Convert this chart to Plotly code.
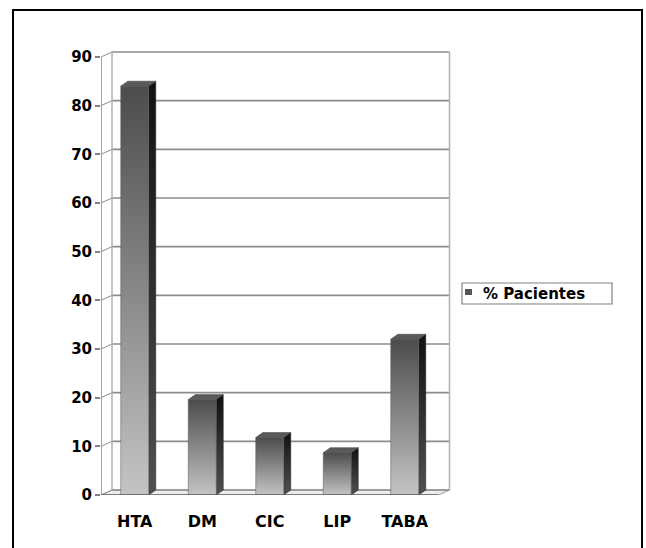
import plotly.graph_objects as go

# Data
categories = ["HTA", "DM", "CIC", "LIP", "TABA"]
pacientes = [84, 19.6, 11.8, 8.7, 32]
y_ticks = [0, 10, 20, 30, 40, 50, 60, 70, 80, 90]
series_name = "% Pacientes"

# Layout geometry (pixels)
W, H = 646, 548
ML, MB, MT = 101, 53, 40
PLOT_W = 360
PLOT_H = H - MB - MT
CAT_PX = 67.5            # width of one category
UNIT_PX = 438 / 90       # pixels per y unit
X_MAX = PLOT_W / CAT_PX
Y_MAX = PLOT_H / UNIT_PX

def dx(px):
    return px / CAT_PX

def dy(px):
    return px / UNIT_PX

def paper_x(px):
    return (px - ML) / PLOT_W

def paper_y(py):
    return (H - MB - py) / PLOT_H

WALL_DX, WALL_DY = dx(11), dy(5)
BAR_DX, BAR_DY = dx(7), dy(5)
BAR_W = dx(28)
n = len(categories)

fig = go.Figure()

shapes = []
grid_col = "#8c8c8c"

# floor
shapes.append(dict(type="path",
                   path=f"M 0,0 L {n},0 L {n + WALL_DX},{WALL_DY} L {WALL_DX},{WALL_DY} Z",
                   xref="x", yref="y", fillcolor="#ececec",
                   line=dict(color="#a0a0a0", width=1), layer="below"))
# back wall gridlines and left-wall diagonals
for t in y_ticks:
    shapes.append(dict(type="line", xref="x", yref="y",
                       x0=WALL_DX, x1=n + WALL_DX, y0=t + WALL_DY, y1=t + WALL_DY,
                       line=dict(color=grid_col, width=1.6), layer="below"))
    shapes.append(dict(type="line", xref="x", yref="y",
                       x0=0, x1=WALL_DX, y0=t, y1=t + WALL_DY,
                       line=dict(color=grid_col, width=1), layer="below"))
# wall edges
shapes.append(dict(type="line", xref="x", yref="y", x0=WALL_DX, x1=WALL_DX,
                   y0=WALL_DY, y1=y_ticks[-1] + WALL_DY,
                   line=dict(color="#b0b0b0", width=1.5), layer="below"))
shapes.append(dict(type="line", xref="x", yref="y", x0=n + WALL_DX, x1=n + WALL_DX,
                   y0=WALL_DY, y1=y_ticks[-1] + WALL_DY,
                   line=dict(color="#b0b0b0", width=1.5), layer="below"))
# front value axis and category axis
shapes.append(dict(type="line", xref="x", yref="y", x0=0, x1=0, y0=0, y1=y_ticks[-1],
                   line=dict(color="#808080", width=1.5)))
shapes.append(dict(type="line", xref="x", yref="y", x0=0, x1=n, y0=0, y1=0,
                   line=dict(color="#606060", width=1.5)))
for i in range(1, n):
    shapes.append(dict(type="line", xref="x", yref="y", x0=i, x1=i, y0=0, y1=-dy(6),
                       line=dict(color="#808080", width=1.2)))

# outer frame
shapes.append(dict(type="rect", xref="paper", yref="paper",
                   x0=paper_x(13), x1=paper_x(642), y0=paper_y(10), y1=paper_y(600),
                   line=dict(color="black", width=2)))

# legend box with its key
shapes.append(dict(type="rect", xref="paper", yref="paper",
                   x0=paper_x(462), x1=paper_x(612), y0=paper_y(304), y1=paper_y(283),
                   fillcolor="white", line=dict(color="#808080", width=1.2)))
shapes.append(dict(type="rect", xref="paper", yref="paper",
                   x0=paper_x(465), x1=paper_x(472), y0=paper_y(295), y1=paper_y(289),
                   fillcolor="#555555", line=dict(width=0)))

# 3D-style bars
for i, (cat, v) in enumerate(zip(categories, pacientes)):
    xl = i + 0.5 - BAR_W / 2
    xr = i + 0.5 + BAR_W / 2
    # side face
    fig.add_trace(go.Scatter(
        x=[xr, xr + BAR_DX, xr + BAR_DX, xr, xr],
        y=[0, BAR_DY, v + BAR_DY, v, 0],
        mode="lines", fill="toself", line=dict(color="#1a1a1a", width=0.5),
        fillgradient=dict(type="vertical",
                          colorscale=[[0, "#505050"], [1, "#111111"]]),
        showlegend=False, hoverinfo="skip"))
    # top face
    fig.add_trace(go.Scatter(
        x=[xl, xr, xr + BAR_DX, xl + BAR_DX, xl],
        y=[v, v, v + BAR_DY, v + BAR_DY, v],
        mode="lines", fill="toself", line=dict(color="#3a3a3a", width=0.5),
        fillcolor="#5a5a5a", showlegend=False, hoverinfo="skip"))
    # front face
    fig.add_trace(go.Scatter(
        x=[xl, xr, xr, xl, xl],
        y=[0, 0, v, v, 0],
        mode="lines", fill="toself", line=dict(color="#555555", width=0.5),
        fillgradient=dict(type="vertical",
                          colorscale=[[0, "#c4c4c4"], [1, "#4c4c4c"]]),
        name=series_name, showlegend=False,
        hovertemplate=f"{cat}: {v}<extra></extra>"))

font_family = "DejaVu Sans, Liberation Sans, Arial, sans-serif"

fig.add_annotation(xref="paper", yref="paper", x=paper_x(481), y=paper_y(293.5),
                   xanchor="left", yanchor="middle", showarrow=False,
                   text=f"<b>{series_name}</b>",
                   font=dict(size=15, family=font_family, color="black"))

fig.update_layout(
    width=W, height=H,
    margin=dict(l=ML, r=W - ML - PLOT_W, t=MT, b=MB, pad=0),
    paper_bgcolor="white", plot_bgcolor="white",
    shapes=shapes,
    showlegend=False,
    font=dict(family=font_family, size=15, color="black"),
    xaxis=dict(range=[0, X_MAX], tickvals=[i + 0.5 for i in range(n)],
               ticktext=[f"<b>{c}</b>" for c in categories],
               showgrid=False, zeroline=False, showline=False,
               ticks="outside", ticklen=12, tickcolor="rgba(0,0,0,0)",
               tickfont=dict(size=16)),
    yaxis=dict(range=[0, Y_MAX], tickvals=y_ticks,
               ticktext=[f"<b>{t}</b>" for t in y_ticks],
               showgrid=False, zeroline=False, showline=False,
               ticks="outside", ticklen=5, tickcolor="#808080", tickwidth=1.5,
               tickfont=dict(size=15)),
)

fig.write_html("out.html")
